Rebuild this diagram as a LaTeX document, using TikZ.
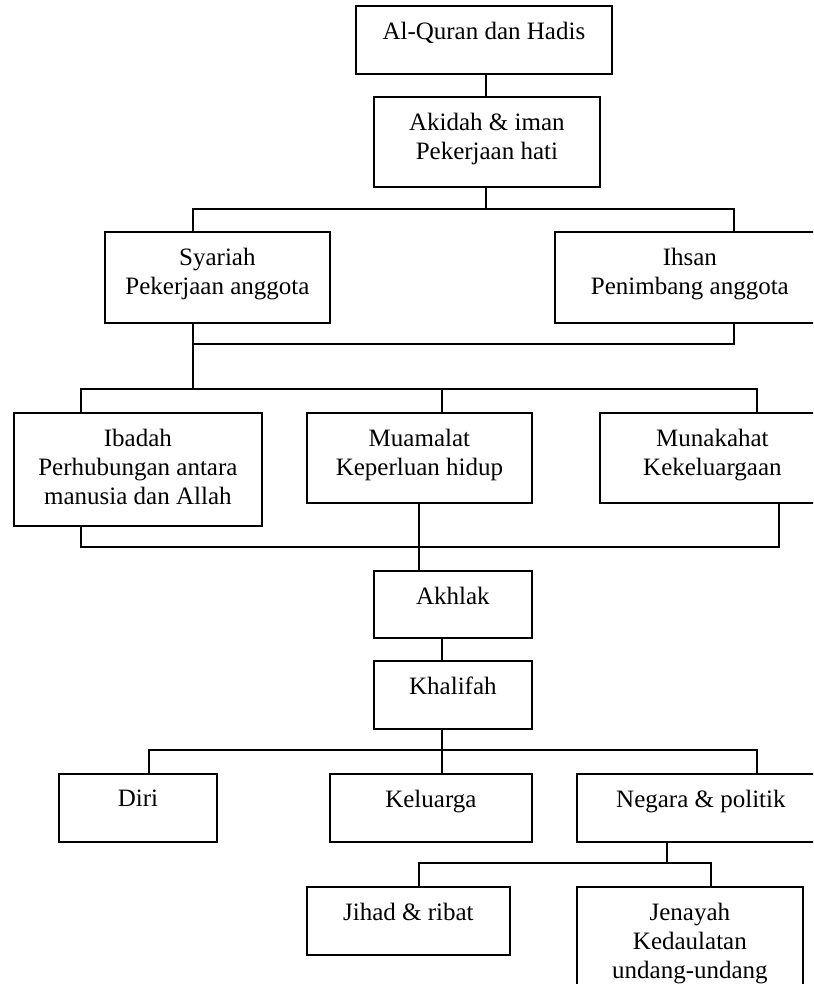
\documentclass[tikz,border=0pt]{standalone}
\usepackage{fontspec}
\setmainfont{Liberation Serif}
\tikzset{
  box/.style={draw, line width=1.8pt, inner sep=0pt, anchor=north west},
  lbl/.style={anchor=north, align=center, inner sep=0pt, font=\fontsize{25}{29}\selectfont},
  conn/.style={line width=1.8pt}
}
\newcommand\bx[6]{%
  \node[box, minimum width={(#4-#2)*1pt}, minimum height={(#5-#3)*1pt}] (#1) at (#2,#3) {};
  \node[lbl] (#1t) at ([yshift=-17pt]#1.north) {#6};
}
\begin{document}
\begin{tikzpicture}[x=1pt,y=-1pt]
\useasboundingbox (0,0) rectangle (813,984);
\clip (0,0) rectangle (813,984);
\bx{quran}{355}{5}{611}{73}{Al-Quran dan Hadis}
\bx{akidah}{373}{96}{599}{186}{Akidah \& iman\\Pekerjaan hati}
\bx{syariah}{104}{231}{329}{322}{Syariah\\Pekerjaan anggota}
\bx{ihsan}{554}{231}{824}{322}{Ihsan\\Penimbang anggota}
\bx{ibadah}{13}{412}{261}{525}{Ibadah\\Perhubungan antara\\manusia dan Allah}
\bx{muamalat}{306}{412}{531}{502}{Muamalat\\Keperluan hidup}
\bx{munakahat}{599}{412}{824}{502}{Munakahat\\Kekeluargaan}
\bx{akhlak}{373}{570}{531}{637}{Akhlak}
\bx{khalifah}{373}{660}{531}{728}{Khalifah}
\bx{diri}{58}{773}{216}{841}{Diri}
\bx{keluarga}{329}{773}{531}{841}{Keluarga}
\bx{negara}{576}{773}{824}{841}{Negara \& politik}
\bx{jihad}{306}{886}{509}{954}{Jihad \& ribat}
\bx{jenayah}{576}{886}{802}{1010}{Jenayah\\Kedaulatan\\undang-undang}
% junctions
\coordinate (h0) at (486,80);
\coordinate (h1l) at (193,209);
\coordinate (h1r) at (734,209);
\coordinate (h2l) at (193,344);
\coordinate (h2r) at (734,344);
\coordinate (h3l) at (81,389);
\coordinate (h3m) at (442,389);
\coordinate (h3r) at (757,389);
\coordinate (h4l) at (81,547);
\coordinate (h4m) at (419,547);
\coordinate (h4r) at (779,547);
\coordinate (h5) at (442,650);
\coordinate (h6l) at (149,750);
\coordinate (h6m) at (442,750);
\coordinate (h6r) at (757,750);
\coordinate (h7l) at (419,863);
\coordinate (h7m) at (667,863);
\coordinate (h7r) at (711,863);
% connectors
\draw[conn] (quran.south -| h0) -- (akidah.north -| h0);
\draw[conn] (akidah.south -| h0) -- (h1l -| h0);
\draw[conn] (syariah.north -| h1l) -- (h1l) -- (h1r) -- (ihsan.north -| h1r);
\draw[conn] (syariah.south -| h2l) -- (h2l |- h3l);
\draw[conn] (ihsan.south -| h2r) -- (h2r) -- (h2l);
\draw[conn] (ibadah.north -| h3l) -- (h3l) -- (h3r) -- (munakahat.north -| h3r);
\draw[conn] (h3m) -- (muamalat.north -| h3m);
\draw[conn] (ibadah.south -| h4l) -- (h4l) -- (h4r) -- (munakahat.south -| h4r);
\draw[conn] (muamalat.south -| h4m) -- (akhlak.north -| h4m);
\draw[conn] (akhlak.south -| h5) -- (khalifah.north -| h5);
\draw[conn] (khalifah.south -| h6m) -- (keluarga.north -| h6m);
\draw[conn] (diri.north -| h6l) -- (h6l) -- (h6r) -- (negara.north -| h6r);
\draw[conn] (negara.south -| h7m) -- (h7m);
\draw[conn] (jihad.north -| h7l) -- (h7l) -- (h7r) -- (jenayah.north -| h7r);
\end{tikzpicture}
\end{document}
